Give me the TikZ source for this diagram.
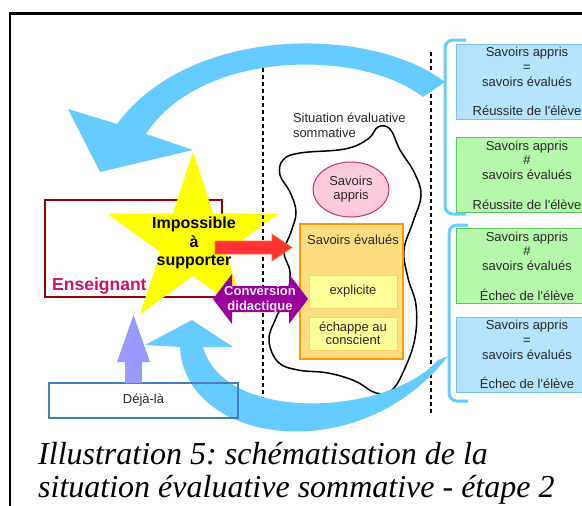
\documentclass[tikz,border=0pt]{standalone}
\usepackage{fontspec}
\newfontfamily\sansbody{Liberation Sans}
\newfontfamily\capfont{Liberation Serif}
\usetikzlibrary{shapes.geometric}
\definecolor{arrowblue}{RGB}{102,204,255}
\definecolor{boxblue}{RGB}{180,228,255}
\definecolor{boxblueline}{RGB}{120,190,255}
\definecolor{boxgreen}{RGB}{180,250,170}
\definecolor{boxgreenline}{RGB}{90,200,90}
\definecolor{ensred}{RGB}{153,0,0}
\definecolor{enstext}{RGB}{204,20,100}
\definecolor{dejablue}{RGB}{74,126,187}
\definecolor{lavarrow}{RGB}{153,153,255}
\definecolor{staryellow}{RGB}{255,255,0}
\definecolor{arrowred}{RGB}{255,51,51}
\definecolor{arroworange}{RGB}{255,120,40}
\definecolor{convpurple}{RGB}{153,0,153}
\definecolor{convtext}{RGB}{245,235,255}
\definecolor{pinkfill}{RGB}{255,204,221}
\definecolor{pinkline}{RGB}{204,51,85}
\definecolor{orangefill}{RGB}{255,221,128}
\definecolor{orangeline}{RGB}{255,153,0}
\definecolor{yellowfill}{RGB}{255,255,153}
\definecolor{yellowline}{RGB}{255,204,102}
\definecolor{textdark}{RGB}{40,40,40}
\tikzset{
  base/.style={inner sep=0pt, outer sep=0pt, text=textdark, font=\sansbody\fontsize{13}{14.7}\selectfont, align=center},
  rbox/.style={base, draw, line width=1pt, minimum width=142pt, minimum height=75pt},
  bluebox/.style={rbox, fill=boxblue, draw=boxblueline},
  greenbox/.style={rbox, fill=boxgreen, draw=boxgreenline},
  innerbox/.style={base, fill=yellowfill, draw=yellowline, line width=1pt, minimum width=88pt, minimum height=33pt},
  sepline/.style={line width=2.2pt, dash pattern=on 4pt off 3pt, black},
  bracket/.style={arrowblue, line width=3pt, rounded corners=8pt},
  captxt/.style={anchor=base west, inner sep=0pt, text=black, font=\capfont\itshape\fontsize{32}{34}\selectfont},
}
\frenchspacing
\begin{document}
\begin{tikzpicture}[x=1pt,y=-1pt]
\useasboundingbox (0,0) rectangle (582,506);
\clip (0,0) rectangle (582,506);
\fill[white] (0,0) rectangle (582,506);

% Enseignant box
\node[draw=ensred, line width=1.5pt, minimum width=177pt, minimum height=97pt, inner sep=0pt] (ens) at (133.5,248.5) {};
\node[anchor=base west, inner sep=0pt, text=enstext, font=\sansbody\bfseries\fontsize{17.5}{20}\selectfont] (enst) at (52,290) {Enseignant};

% star
\node[star, star points=5, star point ratio=2.618, minimum size=180pt, inner sep=0pt, fill=staryellow] (star) at (193,241.5) {};

% blob
\draw[line width=1.5pt] plot[smooth cycle, tension=0.65] coordinates {
(283,160) (300,153) (345,149) (368,139) (378,127) (390,129) (400,150) (414,172)
(421,195) (413,222) (404,250) (408,278) (416,305) (415,338) (405,368) (392,390)
(376,393) (355,381) (328,373) (298,370) (278,362) (269,340) (276,318) (287,295)
(290,272) (284,252) (291,232) (296,212) (290,192) (280,175)};
\node[base, anchor=base west] (sit1) at (293,122) {Situation évaluative};
\node[base, anchor=base west] (sit2) at (293,137) {sommative};

% Savoirs appris ellipse
\node[base, ellipse, minimum width=76pt, minimum height=55pt, fill=pinkfill, draw=pinkline, line width=1pt, font=\sansbody\fontsize{13}{14}\selectfont] (sa) at (351,189.5) {Savoirs\\appris};

% Savoirs evalues
\node[fill=orangefill, draw=orangeline, line width=2pt, minimum width=103pt, minimum height=135pt, inner sep=0pt] (ev) at (351.5,291.5) {};
\node[base] (evt) at (353,239.5) {Savoirs évalués};
\node[innerbox] (expl) at (353,291.5) {explicite};
\node[innerbox, font=\sansbody\fontsize{13}{13.5}\selectfont] (consc) at (353,333.5) {échappe au\\conscient};

% dotted separators
\draw[sepline] (263,68) -- (263,412);
\draw[sepline] (431,52) -- (431,414);

% red arrow
\fill[arrowred, draw=arroworange, line width=0.8pt] (215,241) -- (272,241) -- (272,234) -- (292,247.5) -- (272,261) -- (272,254) -- (215,254) -- cycle;
\node[base, text=black, font=\sansbody\bfseries\fontsize{16}{18.5}\selectfont] (startxt) at (194,243) {Impossible\\à\\supporter};

% conversion didactique
\fill[convpurple] (213,299) -- (232,274) -- (232,286) -- (289,286) -- (289,274) -- (308,299) -- (289,324) -- (289,312) -- (232,312) -- (232,324) -- cycle;
\node[base, text=convtext, font=\sansbody\bfseries\fontsize{13}{15}\selectfont] (conv) at (260,300) {Conversion\\didactique};

% big blue arrows
\fill[arrowblue] (423,97) -- (445,82) .. controls (370,25) and (190,25) .. (117,124) -- (68,109) -- (100,172) -- (193,150) -- (146,134) .. controls (200,50) and (360,48) .. (423,97) -- cycle;
\fill[arrowblue] (192,320) -- (233,347) -- (203,347) .. controls (225,425) and (390,415) .. (438,360) -- (448,356) .. controls (360,470) and (185,445) .. (180,347) -- (145,345) -- cycle;

% deja-la
\node[base, draw=dejablue, line width=1.5pt, minimum width=189pt, minimum height=35pt] (deja) at (143.5,400.5) {Déjà-là};
\fill[lavarrow] (125,383) -- (125,362) -- (117,362) -- (133.5,315) -- (150,362) -- (142,362) -- (142,383) -- cycle;

% right boxes
\node[bluebox] (r1) at (527,81.5) {Savoirs appris\\=\\savoirs évalués\\[14.7pt]Réussite de l'élève};
\node[greenbox] (r2) at (527,175) {Savoirs appris\\\#\\savoirs évalués\\[14.7pt]Réussite de l'élève};
\node[greenbox] (r3) at (527,266) {Savoirs appris\\\#\\savoirs évalués\\[14.7pt]Échec de l'élève};
\node[bluebox] (r4) at (527,354.5) {Savoirs appris\\=\\savoirs évalués\\[14.7pt]Échec de l'élève};

% brackets
\draw[bracket] (466,40) -- (445,40) -- (445,214) -- (466,214);
\draw[bracket] (468,225) -- (449,225) -- (449,401) -- (468,401);

% caption
\node[captxt] (cap1) at (38,464) {Illustration 5: schématisation de la};
\node[captxt] (cap2) at (38,497.5) {situation évaluative sommative - étape 2};

% frame
\draw[line width=2.4pt] (9.7,13.5) rectangle (600,520);
\end{tikzpicture}
\end{document}
